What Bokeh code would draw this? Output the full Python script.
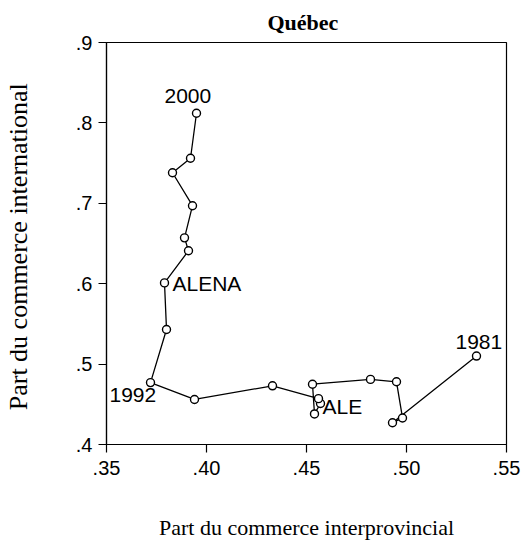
from bokeh.plotting import figure
from bokeh.models import ColumnDataSource, FixedTicker, Range1d
from bokeh.embed import file_html
from bokeh.resources import INLINE
from bokeh.core.properties import value

# ---- data ----
years = list(range(1981, 2001))
interprovincial = [0.535, 0.493, 0.498, 0.495, 0.482, 0.453, 0.454, 0.457, 0.456, 0.433,
                   0.394, 0.372, 0.380, 0.379, 0.391, 0.389, 0.393, 0.383, 0.392, 0.395]
international = [0.510, 0.427, 0.433, 0.478, 0.481, 0.475, 0.438, 0.451, 0.457, 0.473,
                 0.456, 0.477, 0.543, 0.601, 0.641, 0.657, 0.697, 0.738, 0.756, 0.812]

x_ticks = [0.35, 0.40, 0.45, 0.50, 0.55]
x_tick_labels = [".35", ".40", ".45", ".50", ".55"]
y_ticks = [0.4, 0.5, 0.6, 0.7, 0.8, 0.9]
y_tick_labels = [".4", ".5", ".6", ".7", ".8", ".9"]

label_years = [1981, 1989, 1992, 1994, 2000]
label_texts = ["1981", "ALE", "1992", "ALENA", "2000"]
# pixel offsets of each label from its point (style only)
label_dx = [-21, 4, -41, 8, -32]
label_dy = [-14, 8, 12, 1, -17]

SANS = "Liberation Sans"
SERIF = "Liberation Serif"

p = figure(width=525, height=542, output_backend="svg", toolbar_location=None,
           x_range=Range1d(0.35, 0.55), y_range=Range1d(0.4, 0.9),
           min_border_left=105, min_border_right=19, min_border_top=42, min_border_bottom=98,
           background_fill_color="white", border_fill_color="white")

p.title.text = "Québec"
p.title.align = "left"
p.title.offset = 161
p.title.text_font = SERIF
p.title.text_font_style = "bold"
p.title.text_font_size = "22px"
p.title.text_color = "black"
p.title.standoff = 15

p.outline_line_color = "black"
p.outline_line_width = 1.2
p.outline_line_alpha = 1
p.xgrid.visible = False
p.ygrid.visible = False

for ax, ticks, labels in ((p.xaxis[0], x_ticks, x_tick_labels), (p.yaxis[0], y_ticks, y_tick_labels)):
    ax.ticker = FixedTicker(ticks=ticks)
    ax.major_label_overrides = {t: l for t, l in zip(ticks, labels)}
    ax.minor_tick_line_color = None
    ax.major_tick_out = 8
    ax.major_tick_in = 0
    ax.major_tick_line_color = "black"
    ax.major_tick_line_width = 1.2
    ax.axis_line_color = "black"
    ax.axis_line_width = 1.2
    ax.major_label_text_font = SANS
    ax.major_label_text_font_size = "20px"
    ax.major_label_text_color = "black"
    ax.axis_label_text_font = SERIF
    ax.axis_label_text_font_style = "normal"
    ax.axis_label_text_color = "black"

p.xaxis[0].axis_label = "Part du commerce interprovincial"
p.xaxis[0].axis_label_text_font_size = "22px"
p.xaxis[0].major_label_standoff = 8
p.xaxis[0].axis_label_standoff = 37
p.yaxis[0].axis_label = "Part du commerce  international"
p.yaxis[0].axis_label_text_font_size = "26px"
p.yaxis[0].axis_label_standoff = 40
p.yaxis[0].major_label_standoff = 6
p.yaxis[0].major_label_orientation = "horizontal"

src = ColumnDataSource(dict(x=interprovincial, y=international, year=years))
p.line("x", "y", source=src, line_color="black", line_width=1.3)
p.scatter("x", "y", source=src, marker="circle", size=8, fill_color="white",
          line_color="black", line_width=1.4)

lx = [interprovincial[years.index(y)] for y in label_years]
ly = [international[years.index(y)] for y in label_years]
lsrc = ColumnDataSource(dict(x=lx, y=ly, text=label_texts, dx=label_dx, dy=label_dy))
p.text("x", "y", text="text", source=lsrc, x_offset="dx", y_offset="dy",
       text_font=value(SANS), text_font_size="21px", text_color="black",
       text_align="left", text_baseline="alphabetic")

open("out.html", "w").write(file_html(p, INLINE))
